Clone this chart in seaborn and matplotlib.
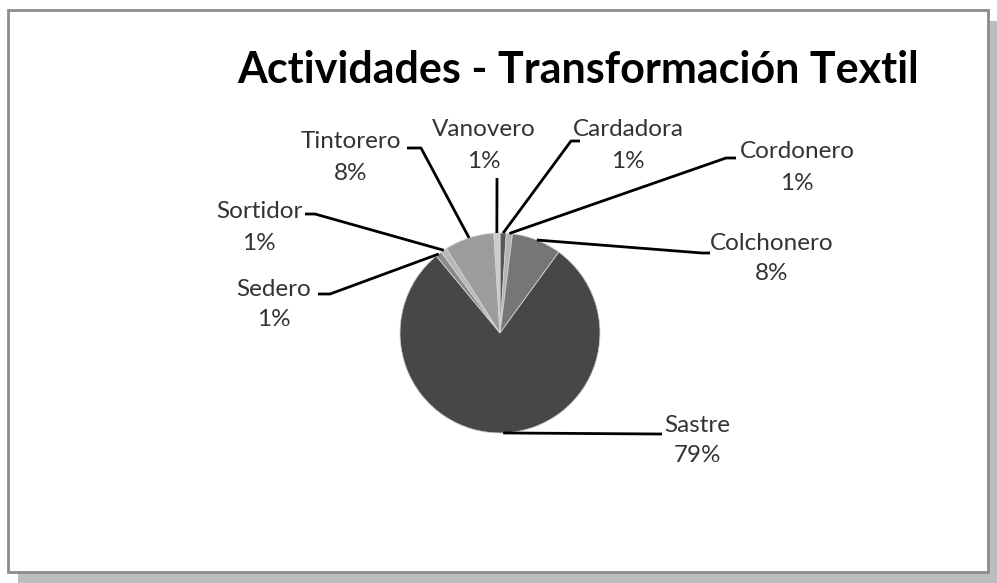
import matplotlib
matplotlib.use("Agg")
import matplotlib.pyplot as plt
import numpy as np
import seaborn as sns
from matplotlib.patches import Rectangle

# data
actividades = ["Cardadora", "Cordonero", "Colchonero", "Sastre",
               "Sedero", "Sortidor", "Tintorero", "Vanovero"]
porcentajes = [1, 1, 8, 79, 1, 1, 8, 1]
colores = ["#575757", "#b4b4b4", "#767676", "#474747",
           "#8a8a8a", "#b8b8b8", "#9c9c9c", "#cccccc"]

# label name centre (pixel coords, top-left origin), leader elbow and stub end
label_pos = {
    "Cardadora": (628, 130, (571, 141), (580, 141)),
    "Cordonero": (797, 152, (726, 158), (736, 158)),
    "Colchonero": (772, 243, (702, 253), (710, 253)),
    "Sastre": (697, 425, (658, 434), (662, 434)),
    "Sedero": (274, 289, (330, 294), (318, 294)),
    "Sortidor": (259, 212, (315, 214), (305, 214)),
    "Tintorero": (351, 142, (421, 148), (407, 148)),
    "Vanovero": (484, 130, (497, 178), (497, 178)),
}

W, H = 997, 583
sns.set_theme(style="white")
plt.rcParams["font.family"] = ["Lato", "DejaVu Sans"]

fig = plt.figure(figsize=(W / 100, H / 100), dpi=100)
fig.patch.set_facecolor("white")

# frame with shadow
fig.patches.append(Rectangle((18 / W, 0), 980 / W, (H - 21) / H,
                             transform=fig.transFigure, facecolor="#bdbdbd",
                             edgecolor="none", zorder=0))
fig.patches.append(Rectangle((8 / W, 11 / H), 980 / W, (H - 21) / H,
                             transform=fig.transFigure, facecolor="white",
                             edgecolor="#8c8c8c", linewidth=2, zorder=1))

ax = fig.add_axes([0, 0, 1, 1])
ax.set_zorder(3)
ax.patch.set_alpha(0)

cx, cy, r = 500, H - 333, 100
wedges, _ = ax.pie(porcentajes, colors=colores, startangle=90,
                   counterclock=False, center=(cx, cy), radius=r,
                   wedgeprops=dict(linewidth=0.6, edgecolor="#d0d0d0"))
ax.set_xlim(0, W)
ax.set_ylim(0, H)
ax.set_aspect("equal")
ax.axis("off")

for w, name, val in zip(wedges, actividades, porcentajes):
    ang = np.deg2rad((w.theta1 + w.theta2) / 2)
    px, py = cx + r * np.cos(ang), cy + r * np.sin(ang)
    tx, ty, elbow, end = label_pos[name]
    xs = [px, elbow[0], end[0]]
    ys = [py, H - elbow[1], H - end[1]]
    ax.plot(xs, ys, color="black", linewidth=2, solid_capstyle="butt")
    ax.text(tx, H - ty, name, ha="center", va="center",
            fontsize=17.5, color="#333333")
    ax.text(tx, H - ty - 31, f"{val}%", ha="center", va="center",
            fontsize=17.5, color="#333333")

ax.text(578, H - 70, "Actividades - Transformación Textil",
        ha="center", va="center", fontsize=31, fontweight="bold",
        color="black")

fig.savefig("out.png", dpi=100)
